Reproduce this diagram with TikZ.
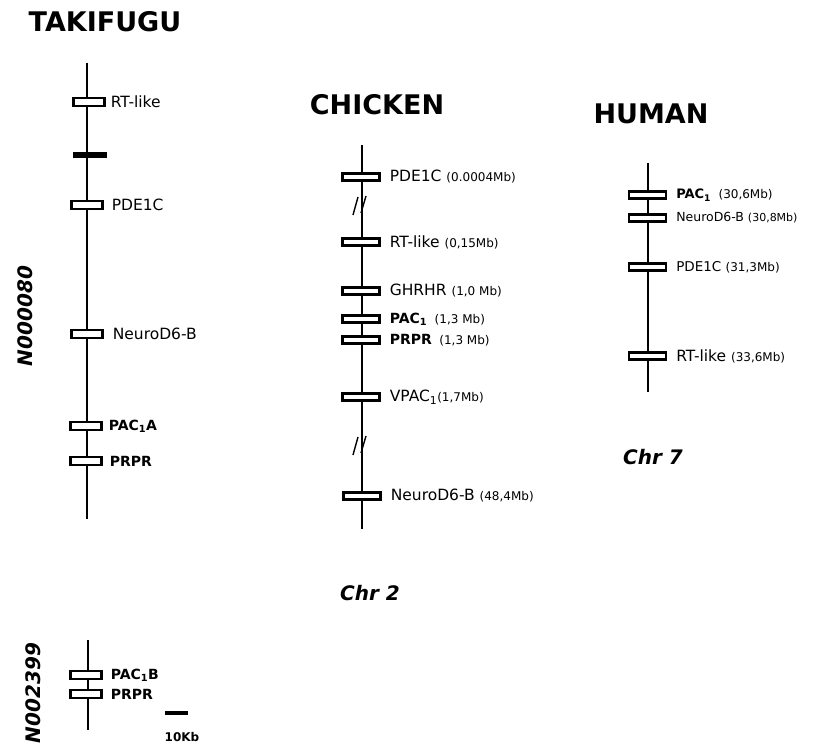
\documentclass[tikz,border=0pt]{standalone}
\usepackage{fontspec}
\setmainfont{DejaVu Sans}
\begin{document}
\begin{tikzpicture}[x=1pt,y=-1pt,
 chrom/.style={line width=2.4pt},
 gbox/.style={draw, fill=white, line width=2.2pt, minimum width=31pt, minimum height=7.5pt, inner sep=0pt},
 gboxw/.style={gbox, minimum width=37pt, minimum height=7pt},
 blackbar/.style={fill=black, minimum width=34pt, minimum height=6pt, inner sep=0pt},
 glab/.style={anchor=west, font=\fontsize{15.5}{18}\selectfont, inner sep=0pt},
 glabb/.style={glab, font=\fontsize{14}{16}\selectfont\bfseries},
 title/.style={font=\fontsize{27}{31}\selectfont\bfseries},
 chr/.style={font=\fontsize{20}{24}\selectfont\bfseries\itshape},
 contig/.style={font=\fontsize{20}{24}\selectfont\bfseries\itshape, rotate=90},
 brk/.style={line width=1.4pt},
 scalebar/.style={line width=3.5pt},
]
\newcommand{\mbs}[1]{{\fontsize{12}{14}\selectfont #1}}
\useasboundingbox (0,0) rectangle (820,746);

% ---------------- TAKIFUGU ----------------
\node[title] (tT) at (105,22) {TAKIFUGU};
\coordinate (t0) at (87,63); \coordinate (t1) at (87,519);
\draw[chrom] (t0) -- (t1);
\node[gbox] (tRT) at (89,102) {};
\node[glab] (tRTl) at ([xshift=5pt]tRT.east) {RT-like};
\node[blackbar] (tbar) at (90,155) {};
\node[gbox] (tPDE) at (87,205) {};
\node[glab] (tPDEl) at ([xshift=8pt]tPDE.east) {PDE1C};
\node[gbox] (tND) at (87,334) {};
\node[glab] (tNDl) at ([xshift=9pt]tND.east) {NeuroD6-B};
\node[gbox] (tPAC) at (86,426) {};
\node[glabb] (tPACl) at ([xshift=6pt]tPAC.east) {PAC\textsubscript{1}A};
\node[gbox] (tPR) at (86,461) {};
\node[glabb] (tPRl) at ([xshift=7pt]tPR.east) {PRPR};
\node[contig] (tN) at (25,316) {N000080};

% ---------------- N002399 ----------------
\coordinate (n0) at (88,640); \coordinate (n1) at (88,730);
\draw[chrom] (n0) -- (n1);
\node[gbox] (nPAC) at (86,675) {};
\node[glabb] (nPACl) at ([xshift=8pt]nPAC.east) {PAC\textsubscript{1}B};
\node[gbox] (nPR) at (86,694) {};
\node[glabb] (nPRl) at ([xshift=8pt]nPR.east) {PRPR};
\node[contig] (nN) at (33,693) {N002399};
\coordinate (s0) at (165,713); \coordinate (s1) at (188,713);
\draw[scalebar] (s0) -- (s1);
\node[font=\fontsize{12}{14}\selectfont\bfseries] (sl) at (182,737) {10Kb};

% ---------------- CHICKEN ----------------
\node[title] (cT) at (377,105) {CHICKEN};
\coordinate (c0) at (362,145); \coordinate (c1) at (362,529);
\draw[chrom] (c0) -- (c1);
\node[gboxw] (cPDE) at (361,177) {};
\node[glab] (cPDEl) at ([xshift=9pt]cPDE.east) {PDE1C \mbs{(0.0004Mb)}};
\coordinate (cb1a) at (353,215); \coordinate (cb1b) at (358,197);
\coordinate (cb2a) at (361,213); \coordinate (cb2b) at (366,196);
\draw[brk] (cb1a) -- (cb1b);
\draw[brk] (cb2a) -- (cb2b);
\node[gboxw] (cRT) at (361,242) {};
\node[glab] (cRTl) at ([xshift=9pt]cRT.east) {RT-like \mbs{(0,15Mb)}};
\node[gboxw] (cGH) at (361,291) {};
\node[glab] (cGHl) at ([xshift=9pt]cGH.east) {GHRHR \mbs{(1,0 Mb)}};
\node[gboxw] (cPAC) at (361,319) {};
\node[glab] (cPACl) at ([xshift=9pt]cPAC.east) {{\fontsize{14}{16}\selectfont\bfseries PAC\textsubscript{1}}\, \mbs{(1,3 Mb)}};
\node[gboxw] (cPR) at (361,340) {};
\node[glab] (cPRl) at ([xshift=9pt]cPR.east) {{\fontsize{14}{16}\selectfont\bfseries PRPR}\, \mbs{(1,3 Mb)}};
\node[gboxw] (cVP) at (361,397) {};
\node[glab] (cVPl) at ([xshift=9pt]cVP.east) {VPAC\textsubscript{1}\mbs{(1,7Mb)}};
\coordinate (cb3a) at (353,455); \coordinate (cb3b) at (358,437);
\coordinate (cb4a) at (361,453); \coordinate (cb4b) at (366,436);
\draw[brk] (cb3a) -- (cb3b);
\draw[brk] (cb4a) -- (cb4b);
\node[gboxw] (cND) at (362,496) {};
\node[glab] (cNDl) at ([xshift=9pt]cND.east) {NeuroD6-B \mbs{(48,4Mb)}};
\node[chr] (cC) at (370,593) {Chr 2};

% ---------------- HUMAN ----------------
\node[title] (hT) at (651,114) {HUMAN};
\coordinate (h0) at (648,163); \coordinate (h1) at (648,392);
\draw[chrom] (h0) -- (h1);
\node[gboxw] (hPAC) at (647.5,195) {};
\node[glab] (hPACl) at ([xshift=9pt]hPAC.east) {{\fontsize{13}{15}\selectfont\bfseries PAC\textsubscript{1}}\, \mbs{(30,6Mb)}};
\node[gboxw] (hND) at (647.5,218) {};
\node[glab,font=\fontsize{12.5}{15}\selectfont] (hNDl) at ([xshift=9pt]hND.east) {NeuroD6-B {\fontsize{11}{13}\selectfont (30,8Mb)}};
\node[gboxw] (hPDE) at (647.5,267) {};
\node[glab,font=\fontsize{13.5}{16}\selectfont] (hPDEl) at ([xshift=9pt]hPDE.east) {PDE1C \mbs{(31,3Mb)}};
\node[gboxw] (hRT) at (647.5,356) {};
\node[glab] (hRTl) at ([xshift=9pt]hRT.east) {RT-like \mbs{(33,6Mb)}};
\node[chr] (hC) at (653,457) {Chr 7};
\end{tikzpicture}
\end{document}
